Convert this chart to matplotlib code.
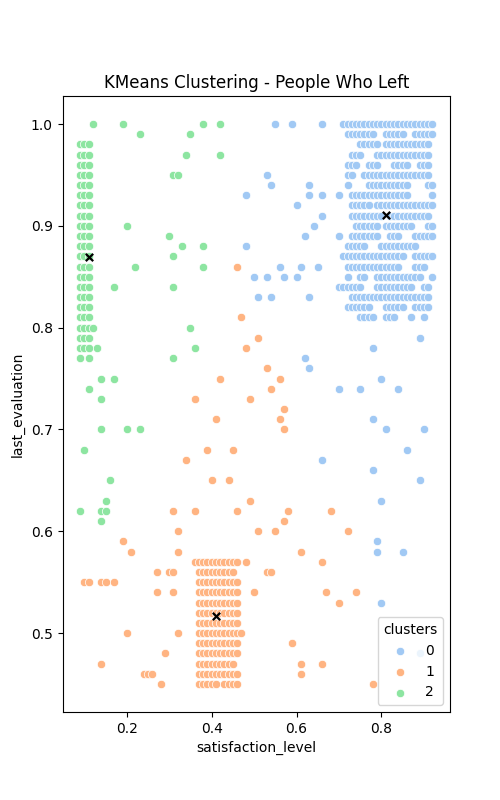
import matplotlib
matplotlib.use("Agg")
import matplotlib.pyplot as plt

# cluster colours (seaborn "pastel")
C0 = "#a1c9f4"
C1 = "#ffb482"
C2 = "#8de5a1"

# rows: last_evaluation (x100) -> satisfaction_level values (x100)
cluster0_rows = {
    100: [55, 59, 66, 71, 72, 73, 74, 75, 76, 77, 78, 79, 80, 81, 82, 83, 84, 85, 86, 87, 88, 89, 90, 91, 92],
    99: [72, 73, 74, 75, 76, 77, 78, 81, 82, 83, 84, 85, 88, 89, 90, 91, 92],
    98: [75, 76, 77, 78, 79, 81, 82, 83, 84, 85, 86, 87, 88, 89, 90, 91],
    97: [73, 74, 75, 79, 80, 81, 82, 83, 84, 85, 86, 87, 88, 89, 90, 91],
    96: [72, 73, 74, 77, 78, 79, 83, 84, 85, 86, 89, 90, 91],
    95: [53, 72, 73, 76, 77, 78, 79, 80, 81, 82, 83, 84, 85, 86, 87, 88, 89, 90, 91],
    94: [54, 63, 72, 77, 78, 79, 80, 81, 82, 83, 84, 85, 86, 91, 92],
    93: [48, 63, 66, 70, 73, 74, 75, 76, 77, 78, 79, 80, 81, 82, 83, 84, 85, 86, 92],
    92: [60, 73, 74, 75, 76, 77, 79, 80, 81, 82, 83, 84, 85, 86, 87, 88, 89, 90, 91, 92],
    91: [66, 73, 74, 75, 76, 77, 78, 79, 80, 82, 83, 84, 85, 86, 87, 88, 89, 90, 91],
    90: [64, 74, 75, 76, 77, 78, 79, 81, 82, 83, 84, 85, 86, 87, 91, 92],
    89: [62, 70, 73, 74, 75, 76, 77, 78, 79, 82, 83, 84, 88, 89, 90, 91, 92],
    88: [48, 72, 73, 74, 75, 76, 80, 81, 82, 83, 84, 85, 86, 87, 88],
    87: [71, 72, 73, 74, 75, 76, 77, 78, 79, 80, 81, 82, 83, 84, 85, 88, 89, 90, 91, 92],
    86: [56, 61, 65, 72, 73, 74, 75, 76, 77, 78, 79, 80, 81, 82, 83, 84, 88, 89, 90],
    85: [50, 53, 57, 60, 72, 75, 76, 79, 80, 81, 82, 83, 84, 85, 86, 87, 88, 89, 92],
    84: [70, 71, 72, 73, 74, 75, 79, 80, 81, 82, 83, 84, 85, 86, 87, 90, 91],
    83: [51, 54, 63, 73, 74, 75, 76, 77, 78, 79, 80, 81, 82, 83, 84, 85, 86, 87, 88, 89, 90, 91],
    82: [72, 73, 74, 75, 76, 77, 81, 82, 83, 84, 85, 88, 89, 90, 91],
    81: [75, 76, 77, 78, 81, 82, 83, 87, 90],
    79: [89],
    78: [78],
    77: [62],
    76: [63],
    75: [80],
    74: [70, 75, 84],
    71: [78],
    70: [81, 90],
    68: [86],
    67: [66],
    66: [78],
    65: [89],
    63: [80],
    59: [79],
    58: [79, 85],
    53: [80],
    48: [89],
}

cluster1_rows = {
    86: [46],
    81: [47],
    79: [51],
    78: [48],
    76: [53],
    75: [42, 56],
    74: [54],
    73: [36, 49],
    72: [57],
    71: [41, 56],
    70: [57],
    68: [39, 45],
    67: [34],
    65: [40, 44],
    63: [49],
    62: [31, 36, 46, 58, 68],
    61: [57],
    60: [32, 51, 55, 72],
    59: [19],
    58: [21, 32, 61],
    57: [36, 37, 38, 39, 40, 41, 42, 43, 44, 45, 46, 48, 66],
    56: [27, 30, 31, 37, 38, 39, 40, 41, 42, 43, 44, 45, 53, 54],
    55: [10, 11, 14, 15, 17, 37, 38, 39, 40, 41, 42, 43, 44, 45, 46],
    54: [27, 31, 37, 38, 39, 40, 41, 42, 43, 44, 45, 46, 50, 67, 74],
    53: [37, 38, 39, 40, 41, 42, 43, 44, 45, 46, 70],
    52: [37, 38, 39, 40, 41, 42, 43, 44, 45, 46],
    51: [37, 38, 39, 40, 41, 42, 43, 44, 45, 46],
    50: [20, 32, 37, 38, 39, 40, 41, 42, 43, 44, 45, 46, 47],
    49: [37, 38, 39, 40, 41, 42, 43, 44, 45, 46, 59],
    48: [29, 37, 38, 39, 40, 41, 42, 43, 44, 45, 46],
    47: [14, 37, 38, 39, 40, 41, 42, 43, 44, 45, 61, 66],
    46: [24, 25, 26, 37, 38, 39, 40, 41, 42, 43, 44, 45, 46, 61],
    45: [28, 37, 38, 39, 40, 41, 43, 44, 45, 46, 78],
}

cluster2_rows = {
    100: [12, 19, 38, 42],
    99: [23, 35],
    98: [9, 10, 11],
    97: [9, 10, 11, 34, 42],
    96: [9, 10, 11],
    95: [9, 10, 11, 31, 32],
    94: [9, 10, 11],
    93: [9, 10, 11],
    92: [9, 10, 11],
    91: [9, 10, 11],
    90: [9, 10, 11, 20],
    89: [9, 10, 11, 30],
    88: [9, 10, 11, 33, 38],
    87: [9, 10, 11, 31],
    86: [9, 10, 11, 22, 38],
    85: [9, 10, 11],
    84: [9, 10, 11, 17, 31],
    83: [9, 10, 11],
    82: [9, 10, 11],
    81: [9, 10, 11],
    80: [9, 10, 11, 12, 35],
    79: [9, 10, 11],
    78: [9, 10, 11, 13, 36],
    77: [9, 11, 31],
    75: [14, 17],
    74: [11],
    73: [14],
    70: [14, 20, 23],
    68: [10],
    65: [16],
    63: [15],
    62: [9, 14, 15],
    61: [14],
}

# cluster centres (satisfaction, evaluation)
centre_x = [0.81, 0.41, 0.11]
centre_y = [0.911, 0.517, 0.869]


def flatten(rows):
    xs, ys = [], []
    for ev, sats in rows.items():
        for s in sats:
            xs.append(s / 100)
            ys.append(ev / 100)
    return xs, ys


fig, ax = plt.subplots(figsize=(5, 8), dpi=100)

for label, rows, color in [("0", cluster0_rows, C0), ("1", cluster1_rows, C1), ("2", cluster2_rows, C2)]:
    x, y = flatten(rows)
    ax.scatter(x, y, s=36, color=color, edgecolor="white", linewidths=0.5, label=label)

ax.scatter(centre_x, centre_y, marker="x", color="black", s=28, linewidths=1.6)

ax.set_title("KMeans Clustering - People Who Left")
ax.set_xlabel("satisfaction_level")
ax.set_ylabel("last_evaluation")
ax.legend(title="clusters", loc="lower right")

fig.savefig("out.png", dpi=100)
